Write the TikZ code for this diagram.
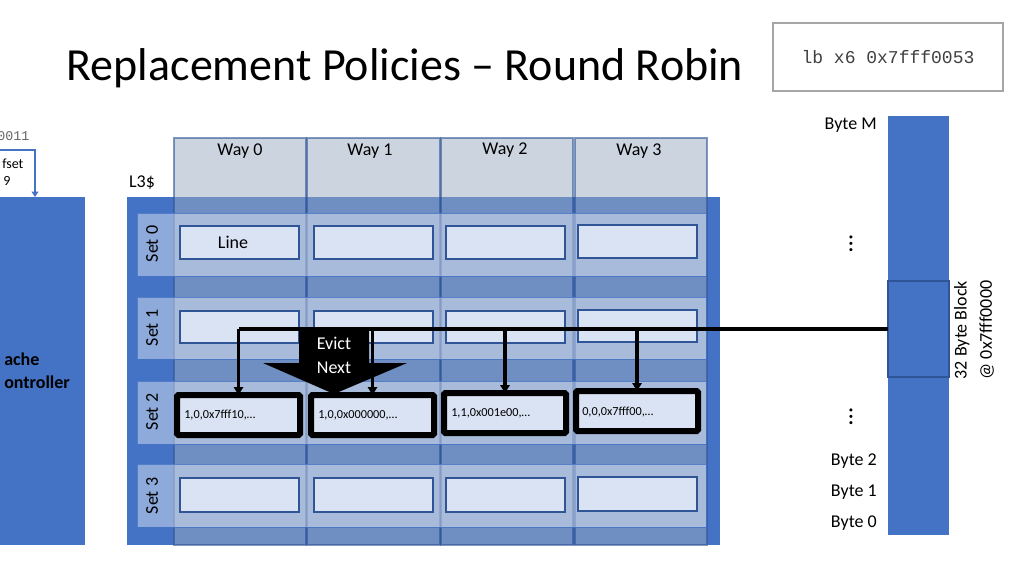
\documentclass[tikz,border=0pt]{standalone}
\usepackage{fontspec}
\setmainfont{Carlito}
\setmonofont{Liberation Mono}
\usetikzlibrary{arrows.meta}
\definecolor{oblue}{HTML}{4472C4}
\definecolor{dblue}{HTML}{2F5597}
\definecolor{wayfill}{HTML}{9BABC1}
\definecolor{linefill}{HTML}{DAE3F3}
\newcommand\mybox[7]{\node[#6, inner sep=0pt, outer sep=0pt, minimum width={(#4-#2)*0.75pt}, minimum height={(#5-#3)*0.75pt}] (#1) at ({(#2+#4)/2},{(#3+#5)/2}) {#7};}
\tikzset{
  lbl/.style={font=\fontsize{13.5}{16}\selectfont, inner sep=0pt},
  small/.style={font=\fontsize{9.2}{11}\selectfont, inner sep=0pt, anchor=west},
  waycol/.style={fill=wayfill, fill opacity=0.5, draw=dblue, draw opacity=0.6, line width=0.8pt, text opacity=1},
  setrow/.style={fill=white, fill opacity=0.4, draw=oblue, draw opacity=0.8, line width=0.6pt},
  linebox/.style={fill=linefill, draw=dblue, line width=0.8pt},
  hotbox/.style={fill=linefill, draw=black, line width=4.5pt, rounded corners=1pt},
  blueblk/.style={fill=oblue},
  vdot/.style={font=\fontsize{19}{20}\selectfont, inner sep=0pt, rotate=90},
  conn/.style={line width=2.4pt, -{Triangle[width=7pt,length=6pt]}},
}
\begin{document}
\begin{tikzpicture}[x=0.75pt,y=-0.75pt]
\useasboundingbox (0,0) rectangle (1024,576);
\clip (0,0) rectangle (1024,576);
\fill[white] (0,0) rectangle (1024,576);

% title
\node[font=\fontsize{34.5}{40}\selectfont, inner sep=0pt] (title) at (405,68) {Replacement Policies – Round Robin};
\mybox{instr}{773}{23}{1003}{91}{draw=gray!70, line width=0.8pt, text=black!75, font=\ttfamily\fontsize{13.5}{16}\selectfont}{lb x6 0x7fff0053}

% left partial controller
\node[font=\ttfamily\fontsize{10}{12}\selectfont, text=black!60, inner sep=0pt, anchor=west] (addr) at (-3,136) {0011};
\node[font=\fontsize{10.5}{12}\selectfont, inner sep=0pt, anchor=west] (offs) at (2,164) {fset};
\node[font=\fontsize{10.5}{12}\selectfont, inner sep=0pt, anchor=west] (nine) at (3,181) {9};
\mybox{ctrl}{-10}{197}{85}{545}{blueblk}{}
\node[lbl, font=\bfseries\fontsize{13.5}{16}\selectfont, anchor=west, align=left] (ctrltxt) at (4,371) {ache\\[1pt]ontroller};
\coordinate (offsrc) at (0,150);
\draw[oblue, line width=1pt, -{Triangle[width=5pt,length=4pt]}] (offsrc) -| (ctrl.north -| 35,0);

% L3 cache
\node[lbl] (l3) at (142,183) {L3\$};
\mybox{l3box}{127}{197}{720}{545}{blueblk}{}
\mybox{way0}{174}{138}{306}{545}{waycol}{}
\mybox{way1}{307}{138}{440}{545}{waycol}{}
\mybox{way2}{441}{138}{573}{545}{waycol}{}
\mybox{way3}{575}{138}{707}{545}{waycol}{}
\node[lbl] (w0t) at (240,151) {Way 0};
\node[lbl] (w1t) at (370,151) {Way 1};
\node[lbl] (w2t) at (505,150) {Way 2};
\node[lbl] (w3t) at (639,151) {Way 3};

\mybox{set0}{137}{213}{706}{276}{setrow}{}
\mybox{set1}{137}{297}{706}{359}{setrow}{}
\mybox{set2}{137}{381}{706}{444}{setrow}{}
\mybox{set3}{137}{464}{706}{527}{setrow}{}
\node[lbl, rotate=90] (s0t) at (152,244) {Set 0};
\node[lbl, rotate=90] (s1t) at (152,328) {Set 1};
\node[lbl, rotate=90] (s2t) at (152,412) {Set 2};
\node[lbl, rotate=90] (s3t) at (152,496) {Set 3};

% line boxes
\mybox{a0}{180}{226}{299}{259}{linebox}{}
\node[lbl] (linetxt) at (233,242) {Line};
\mybox{a1}{314}{226}{433}{259}{linebox}{}
\mybox{a2}{446}{226}{565}{259}{linebox}{}
\mybox{a3}{578}{225}{697}{258}{linebox}{}
\mybox{c0}{180}{311}{299}{343}{linebox}{}
\mybox{c1}{314}{311}{433}{343}{linebox}{}
\mybox{c2}{446}{311}{565}{343}{linebox}{}
\mybox{c3}{578}{310}{697}{342}{linebox}{}
\mybox{d0}{180}{478}{299}{512}{linebox}{}
\mybox{d1}{314}{478}{433}{512}{linebox}{}
\mybox{d2}{446}{478}{565}{512}{linebox}{}
\mybox{d3}{578}{477}{697}{511}{linebox}{}

\mybox{b0}{177}{395}{300}{435}{hotbox}{}
\mybox{b1}{311}{395}{434}{435}{hotbox}{}
\mybox{b2}{444}{393}{566}{433}{hotbox}{}
\mybox{b3}{576}{391}{698}{431}{hotbox}{}
\node[small] (b0t) at (184,415) {1,0,0x7fff10,…};
\node[small] (b1t) at (318,415) {1,0,0x000000,…};
\node[small] (b2t) at (451,413) {1,1,0x001e00,…};
\node[small] (b3t) at (582,412) {0,0,0x7fff00,…};

% memory column
\mybox{mem}{888}{116}{949}{535}{blueblk}{}
\mybox{blk}{888}{281}{949}{377}{fill=oblue, draw=dblue, line width=1.5pt}{}
\node[lbl, rotate=90, align=center] (blktxt) at (974,330) {32 Byte Block\\[3pt]@ 0x7fff0000};
\node[lbl, anchor=east] (bm) at (877,125) {Byte M};
\node[vdot] (dots1) at (851,244) {…};
\node[vdot] (dots2) at (851,417) {…};
\node[lbl, anchor=east] (by2) at (877,461) {Byte 2};
\node[lbl, anchor=east] (by1) at (877,492) {Byte 1};
\node[lbl, anchor=east] (by0) at (877,523) {Byte 0};

% evict next arrow
\fill[black] (299,331) -- (369,331) -- (369,363) -- (407,363) -- (334,394) -- (263,363) -- (299,363) -- cycle;
\node[lbl, text=white, align=center] (evict) at (334,355) {Evict\\[2pt]Next};

% connectors
\draw[line width=3pt] (blk.west) -- (blk.west -| b0.north);
\draw[conn] (blk.west -| b0.north) -- (b0.north);
\draw[conn] (blk.west -| b1.north) -- (b1.north);
\draw[conn] (blk.west -| b2.north) -- (b2.north);
\draw[conn] (blk.west -| b3.north) -- (b3.north);
\end{tikzpicture}
\end{document}
